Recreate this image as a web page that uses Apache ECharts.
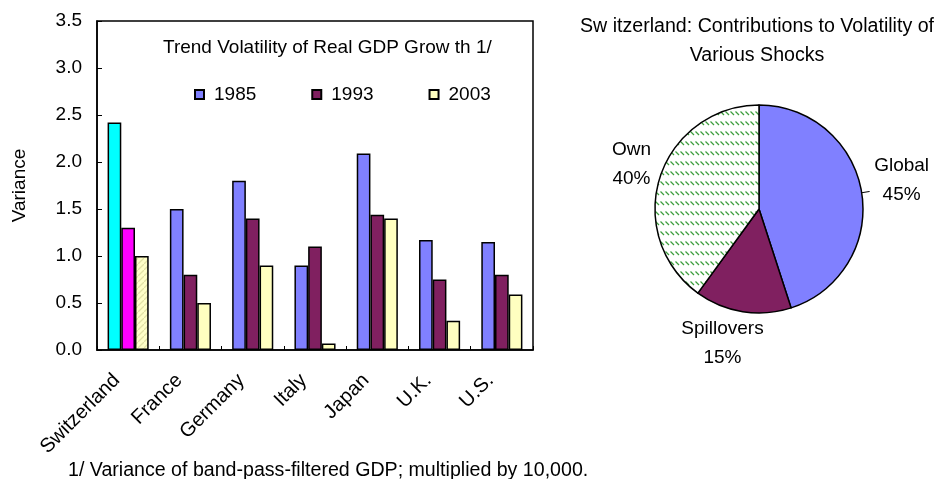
<!DOCTYPE html>
<html>
<head>
<meta charset="utf-8">
<script src="https://cdn.jsdelivr.net/npm/echarts@6/dist/echarts.min.js"></script>
<style>
html, body { margin: 0; padding: 0; background: #fff; }
#main { width: 936px; height: 479px; }
</style>
</head>
<body>
<div id="main"></div>
<script>
// bar chart data
var countries = ['Switzerland', 'France', 'Germany', 'Italy', 'Japan', 'U.K.', 'U.S.'];
var years = ['1985', '1993', '2003'];
var v1985 = [2.42, 1.50, 1.80, 0.90, 2.09, 1.17, 1.15];
var v1993 = [1.30, 0.80, 1.40, 1.10, 1.44, 0.75, 0.80];
var v2003 = [1.00, 0.50, 0.90, 0.07, 1.40, 0.31, 0.59];
var yTicks = ['0.0', '0.5', '1.0', '1.5', '2.0', '2.5', '3.0', '3.5'];

// pie data
var shockNames = ['Global', 'Spillovers', 'Own'];
var shockShares = [45, 15, 40];

var font = 'Liberation Sans, Arial, sans-serif';

function hatch(bg, fg, w, h, x0, y0, x1, y1) {
	var c = document.createElement('canvas');
	c.width = w; c.height = h;
	var ctx = c.getContext('2d');
	ctx.fillStyle = bg;
	ctx.fillRect(0, 0, w, h);
	ctx.strokeStyle = fg;
	ctx.lineWidth = 1.3;
	ctx.beginPath();
	ctx.moveTo(x0, y0);
	ctx.lineTo(x1, y1);
	ctx.stroke();
	return { image: c, repeat: 'repeat' };
}

var swissHatch = hatch('#FFFFC8', '#E2E2A6', 6, 6, -1, 7, 7, -1);
var ownHatch = hatch('#FFFFFF', '#3E9E3E', 5, 10, 0.5, 1.5, 4, 5);

// Switzerland bars are drawn in their own colours
var s1985 = v1985.map(function (v, i) {
	return i == 0 ? { value: v, itemStyle: { color: '#00FFFF' } } : v;
});
var s1993 = v1993.map(function (v, i) {
	return i == 0 ? { value: v, itemStyle: { color: '#FF00FF' } } : v;
});
var s2003 = v2003.map(function (v, i) {
	return i == 0 ? { value: v, itemStyle: { color: swissHatch } } : v;
});

var barColors = ['#8080FF', '#802060', '#FFFFC0'];
var barData = [s1985, s1993, s2003];

var pieColors = ['#8080FF', '#802060', ownHatch];
var pieData = shockNames.map(function (n, i) {
	var d = { name: n, value: shockShares[i], itemStyle: { color: pieColors[i] } };
	if (i > 0) d.labelLine = { show: false };
	return d;
});
// nudges for the pie labels (Global, Spillovers, Own)
var pieLabelShift = [[27, -11], [-14, 24], [-16, -10]];

var myChart = echarts.init(document.getElementById('main'));
var option = {
	backgroundColor: '#fff',
	animation: false,
	textStyle: { fontFamily: font, color: '#000' },
	title: [
		{
			text: 'Trend Volatility of Real GDP Grow th 1/',
			left: 158, top: 33,
			textStyle: { fontFamily: font, fontSize: 19, fontWeight: 'normal', color: '#000' }
		},
		{
			text: 'Sw itzerland: Contributions to Volatility of\nVarious Shocks',
			left: 752, top: 7, textAlign: 'center',
			textStyle: { fontFamily: font, fontSize: 19.6, fontWeight: 'normal', color: '#000', lineHeight: 29 }
		},
		{
			text: '1/ Variance of band-pass-filtered GDP; multiplied by 10,000.',
			left: 63, top: 456,
			textStyle: { fontFamily: font, fontSize: 19.6, fontWeight: 'normal', color: '#000' }
		}
	],
	legend: {
		data: years,
		left: 189, top: 80,
		icon: 'rect',
		itemWidth: 9, itemHeight: 9,
		itemGap: 55,
		textStyle: { fontFamily: font, fontSize: 19, color: '#000', padding: [0, 0, 0, 5] }
	},
	grid: {
		left: 97, top: 21, width: 436, height: 329,
		show: true, borderColor: '#000', borderWidth: 1.5
	},
	xAxis: {
		type: 'category',
		data: countries,
		axisLine: { show: true, lineStyle: { color: '#000', width: 1.5 } },
		axisTick: { show: true, inside: true, length: 4, lineStyle: { color: '#000' } },
		axisLabel: { rotate: 45, fontSize: 20, margin: 16, padding: [0, 16, 0, 0], color: '#000', fontFamily: font }
	},
	yAxis: {
		type: 'value',
		min: 0, max: 3.5, interval: 0.5,
		name: 'Variance',
		nameLocation: 'middle',
		nameGap: 68,
		nameTextStyle: { fontSize: 19, color: '#000', fontFamily: font },
		axisLine: { show: true, lineStyle: { color: '#000', width: 1.5 } },
		axisTick: { show: true, inside: true, length: 5, lineStyle: { color: '#000' } },
		splitLine: { show: false },
		axisLabel: {
			fontSize: 19, margin: 15, color: '#000', fontFamily: font,
			formatter: function (v) { return yTicks[Math.round(v / 0.5)]; }
		}
	},
	series: barData.map(function (d, i) {
		return {
			name: years[i],
			type: 'bar',
			data: d,
			barGap: 0,
			barCategoryGap: '34%',
			itemStyle: { color: barColors[i], borderColor: '#000', borderWidth: 1.5 }
		};
	}).concat([{
		type: 'pie',
		center: [759, 209],
		radius: 104,
		startAngle: 90,
		clockwise: true,
		data: pieData,
		itemStyle: { borderColor: '#000', borderWidth: 1.5 },
		label: {
			show: true, position: 'outside',
			formatter: '{b}\n{d}%',
			overflow: 'none',
			fontSize: 19, lineHeight: 29, color: '#000', fontFamily: font
		},
		labelLine: { show: true, length: 8, length2: 0, lineStyle: { color: '#000', width: 1 } },
		labelLayout: function (p) {
			var s = pieLabelShift[p.dataIndex];
			return { align: 'center', dx: s[0], dy: s[1] };
		}
	}])
};
myChart.setOption(option);
</script>
</body>
</html>
